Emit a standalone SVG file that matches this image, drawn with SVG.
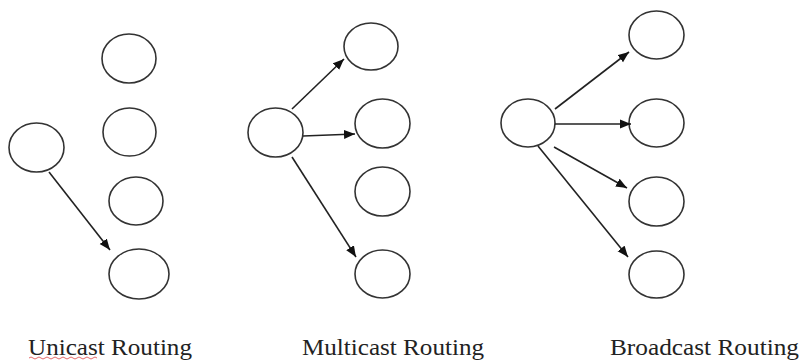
<svg xmlns="http://www.w3.org/2000/svg" width="803" height="360" viewBox="0 0 803 360">
<style>
.node ellipse{fill:#fff;stroke:#333;stroke-width:1.6}
.edge{stroke:#222;stroke-width:1.6;fill:none;marker-end:url(#ah)}
.lbl{font-family:"Liberation Serif","Times New Roman",serif;font-size:24px;fill:#222}
</style>
<defs>
<marker id="ah" markerUnits="userSpaceOnUse" markerWidth="12" markerHeight="10" refX="11" refY="5" orient="auto">
<path d="M0,0.5 L11,5 L0,9.5 z" fill="#111"/>
</marker>
</defs>
<rect width="803" height="360" fill="#fff"/>
<g id="unicast-src" class="node"><ellipse cx="36.5" cy="147.5" rx="27.5" ry="24.5"/></g>
<g id="unicast-1" class="node"><ellipse cx="129" cy="58.5" rx="27" ry="24.5"/></g>
<g id="unicast-2" class="node"><ellipse cx="129.5" cy="132" rx="26.5" ry="24"/></g>
<g id="unicast-3" class="node"><ellipse cx="136" cy="201" rx="27" ry="24"/></g>
<g id="unicast-4" class="node"><ellipse cx="139" cy="274" rx="30" ry="25"/></g>
<g id="multicast-src" class="node"><ellipse cx="275.5" cy="132.5" rx="27.5" ry="24.5"/></g>
<g id="multicast-1" class="node"><ellipse cx="371" cy="46.5" rx="27" ry="23.5"/></g>
<g id="multicast-2" class="node"><ellipse cx="382.5" cy="123.5" rx="27.5" ry="24.5"/></g>
<g id="multicast-3" class="node"><ellipse cx="382.5" cy="191.5" rx="27.5" ry="24.5"/></g>
<g id="multicast-4" class="node"><ellipse cx="382.5" cy="274" rx="27.5" ry="24"/></g>
<g id="broadcast-src" class="node"><ellipse cx="528" cy="123" rx="27" ry="24"/></g>
<g id="broadcast-1" class="node"><ellipse cx="656.5" cy="35" rx="27.5" ry="24"/></g>
<g id="broadcast-2" class="node"><ellipse cx="656.5" cy="123" rx="27.5" ry="24"/></g>
<g id="broadcast-3" class="node"><ellipse cx="656.5" cy="201.5" rx="27.5" ry="24.5"/></g>
<g id="broadcast-4" class="node"><ellipse cx="656.5" cy="274.5" rx="27.5" ry="23.5"/></g>
<g id="connectors">
<line class="edge" x1="49" y1="172" x2="110" y2="250"/>
<line class="edge" x1="292" y1="109" x2="344" y2="59"/>
<line class="edge" x1="303" y1="136" x2="355" y2="134"/>
<line class="edge" x1="292" y1="157" x2="356" y2="257"/>
<line class="edge" x1="555" y1="109" x2="629" y2="52"/>
<line class="edge" x1="555" y1="124" x2="631" y2="124"/>
<line class="edge" x1="554" y1="147" x2="627" y2="188"/>
<line class="edge" x1="538" y1="146" x2="628" y2="257"/>
</g>
<g id="labels">
<text class="lbl" x="28" y="355" textLength="164" lengthAdjust="spacingAndGlyphs">Unicast Routing</text>
<path d="M29,358 q2,-2 4,0 t4,0 t4,0 t4,0 t4,0 t4,0 t4,0 t4,0 t4,0 t4,0 t4,0 t4,0 t4,0 t4,0 t4,0 t4,0 t4,0" fill="none" stroke="#d44" stroke-width="0.8"/>
<text class="lbl" x="302" y="355" textLength="182" lengthAdjust="spacingAndGlyphs">Multicast Routing</text>
<text class="lbl" x="610" y="355" textLength="189" lengthAdjust="spacingAndGlyphs">Broadcast Routing</text>
</g>
</svg>
